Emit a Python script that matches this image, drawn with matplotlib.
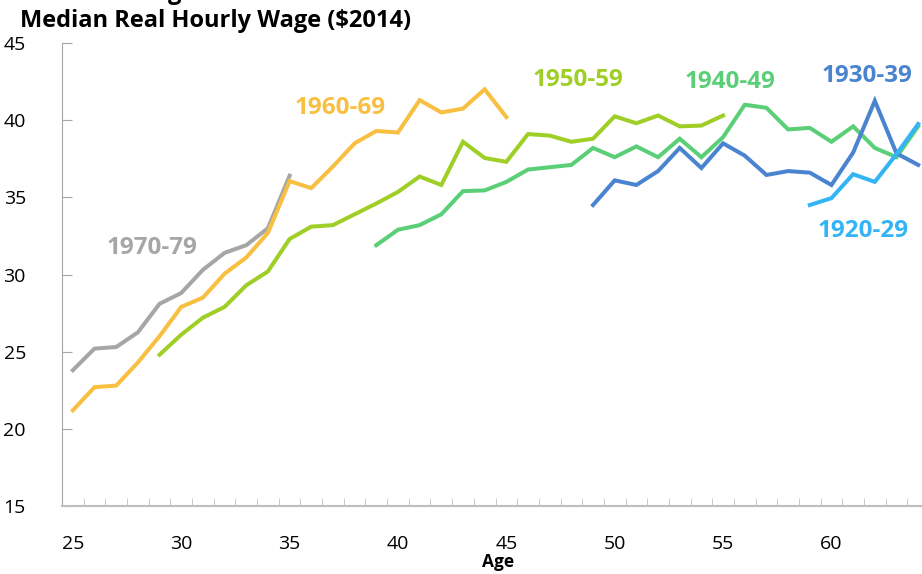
import matplotlib
matplotlib.use("Agg")
import matplotlib.pyplot as plt
from matplotlib.ticker import MultipleLocator

# median real hourly wage by age, one series per birth cohort
ages_1970 = list(range(25, 36))
wage_1970 = [23.8, 25.2, 25.3, 26.25, 28.1, 28.8, 30.3, 31.4, 31.9, 33.0, 36.4]

ages_1960 = list(range(25, 46))
wage_1960 = [21.2, 22.7, 22.8, 24.3, 26.0, 27.9, 28.5, 30.05, 31.1, 32.7, 36.05,
             35.6, 37.0, 38.5, 39.3, 39.2, 41.3, 40.5, 40.75, 42.0, 40.2]

ages_1950 = list(range(29, 56))
wage_1950 = [24.8, 26.1, 27.2, 27.9, 29.3, 30.2, 32.3, 33.1, 33.2, 33.9, 34.6,
             35.35, 36.35, 35.8, 38.6, 37.55, 37.3, 39.1, 39.0, 38.6, 38.8,
             40.25, 39.8, 40.3, 39.6, 39.65, 40.3]

ages_1940 = list(range(39, 65))
wage_1940 = [31.9, 32.9, 33.2, 33.9, 35.4, 35.45, 36.0, 36.8, 36.95, 37.1, 38.2,
             37.6, 38.3, 37.6, 38.8, 37.6, 38.9, 41.0, 40.8, 39.4, 39.5, 38.6,
             39.6, 38.2, 37.6, 39.6]

ages_1930 = list(range(49, 65))
wage_1930 = [34.5, 36.1, 35.8, 36.7, 38.2, 36.9, 38.5, 37.7, 36.45, 36.7, 36.6,
             35.8, 37.9, 41.25, 37.85, 37.1]

ages_1920 = list(range(59, 65))
wage_1920 = [34.5, 34.95, 36.5, 36.0, 37.8, 39.75]

cohorts = ["1970-79", "1960-69", "1950-59", "1940-49", "1930-39", "1920-29"]
colors = ["#a6a6a6", "#f8bf40", "#9fcf26", "#5bcf77", "#4a84d0", "#33b5f5"]

plt.rcParams['font.family'] = ['Open Sans', 'DejaVu Sans']

fig = plt.figure(figsize=(9.22, 5.74), dpi=100)
ax = fig.add_axes([62 / 922, 68 / 574, 867 / 922, 463 / 574])

series = [(ages_1970, wage_1970), (ages_1960, wage_1960), (ages_1950, wage_1950),
          (ages_1940, wage_1940), (ages_1930, wage_1930), (ages_1920, wage_1920)]
for (x, y), c in zip(series, colors):
    ax.plot(x, y, color=c, lw=2.9, solid_joinstyle='miter')

# labels near each line
label_pos = [(152, 248), (340, 108), (578, 80), (730, 82), (867, 76), (863, 231)]
for name, c, (px, py) in zip(cohorts, colors, label_pos):
    fig.text(px / 922, 1 - py / 574, name, color=c, fontsize=17.5, fontweight='bold',
             ha='center', va='center')

ax.set_xlim(24.5, 64.5)
ax.set_ylim(15, 45)
ax.set_xticks(range(25, 65, 5))
ax.xaxis.set_minor_locator(MultipleLocator(1, offset=0.5))
ax.tick_params(axis='x', which='major', length=0, labelsize=14, pad=21)
ax.tick_params(axis='x', which='minor', direction='in', length=6, color='#bfbfbf')
ax.yaxis.set_major_locator(MultipleLocator(5))
ax.tick_params(axis='y', which='major', direction='in', length=7, color='#a6a6a6',
               labelsize=14, pad=26)

for s in ['top', 'right']:
    ax.spines[s].set_visible(False)
ax.spines['left'].set_color('#a6a6a6')
ax.spines['bottom'].set_color('#bfbfbf')
ax.spines['bottom'].set_linewidth(1.5)

fig.text(498 / 922, 1 - 562 / 574, "Age", fontsize=12.5, fontweight='bold',
         ha='center', va='center')
fig.text(20 / 922, 1 - 21 / 574, "Median Real Hourly Wage ($2014)", fontsize=17,
         fontweight='bold', ha='left', va='center')
fig.text(20 / 922, 1 + 1 / 574, "Graduate Degree", fontsize=17,
         fontweight='bold', ha='left', va='baseline')

fig.savefig("out.png", dpi=100)
